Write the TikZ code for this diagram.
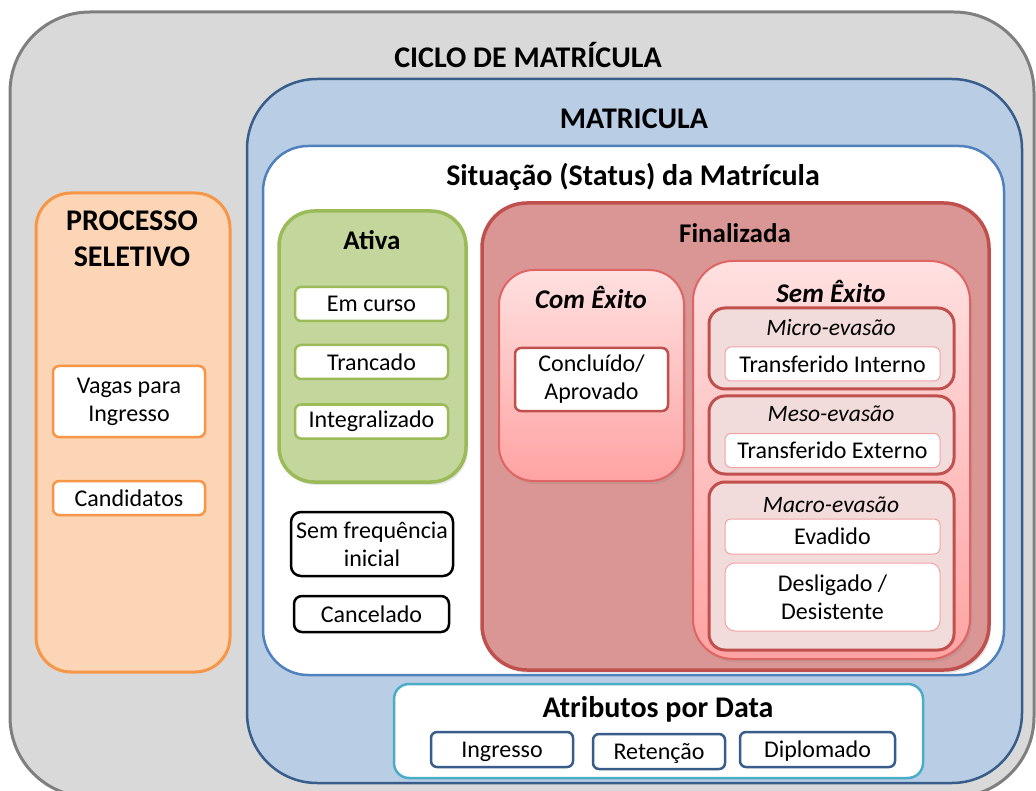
\documentclass[tikz,border=0pt]{standalone}
\usepackage{fontspec}
\setmainfont{Carlito}
\usetikzlibrary{fit,shadows}
\definecolor{cinzafundo}{HTML}{D9D9D9}
\definecolor{cinzaborda}{HTML}{7F7F7F}
\definecolor{azulfundo}{HTML}{B9CDE5}
\definecolor{azulborda}{HTML}{385D8A}
\definecolor{azulclaro}{HTML}{4F81BD}
\definecolor{verdefundo}{HTML}{C3D69B}
\definecolor{verdeborda}{HTML}{9BBB59}
\definecolor{vermfundo}{HTML}{D99694}
\definecolor{vermborda}{HTML}{C0504D}
\definecolor{rosatopo}{HTML}{FFE0E0}
\definecolor{rosabase}{HTML}{FFA3A3}
\definecolor{rosaborda}{HTML}{DE6563}
\definecolor{rosafundo}{HTML}{F2DCDB}
\definecolor{rosafino}{HTML}{F0A3A3}
\definecolor{laranjafundo}{HTML}{FBD5B5}
\definecolor{laranjaborda}{HTML}{F79646}
\definecolor{turquesa}{HTML}{4BACC6}
\begin{document}
\begin{tikzpicture}[x=1pt, y=-1pt, line join=round,
	caixa/.style={inner sep=0pt, rounded corners=#1},
	sombra/.style={drop shadow={opacity=0.2, shadow xshift=2pt, shadow yshift=-3pt}},
	item/.style={draw, fill=white, rounded corners=6pt, inner sep=0pt, align=center,
		font=\fontsize{24}{28}\selectfont, minimum height=34pt},
	titulo/.style={font=\fontsize{30}{36}\selectfont\bfseries},
	subtitulo/.style={font=\fontsize{27}{32}\selectfont\bfseries},
	evasao/.style={font=\fontsize{23.5}{28}\selectfont\itshape},
	]
	\useasboundingbox (0,0) rectangle (1036,791);
	\clip (0,0) rectangle (1036,791);
	% caixas de fundo
	\node[caixa=80pt, fill=cinzafundo, draw=cinzaborda, line width=3pt, fit={(10,12) (1034,797)}] (ciclo) {};
	\node[caixa=70pt, fill=azulfundo, draw=azulborda, line width=2.5pt, fit={(247,79) (1022,783)}] (matricula) {};
	\node[caixa=45pt, fill=white, draw=azulclaro, line width=2.5pt, fit={(263,146) (1004,675)}] (situacao) {};
	\node[caixa=35pt, fill=laranjafundo, draw=laranjaborda, line width=3pt, fit={(36,193) (230,672)}] (processo) {};
	\node[caixa=35pt, sombra, fill=verdefundo, draw=verdeborda, line width=3.5pt, fit={(279,211) (466,482)}] (ativa) {};
	\node[caixa=45pt, sombra, fill=vermfundo, draw=vermborda, line width=3.5pt, fit={(482,203) (989,670)}] (finalizada) {};
	\node[caixa=35pt, sombra, top color=rosatopo, bottom color=rosabase, draw=rosaborda, line width=2pt, fit={(499,270) (684,481)}] (comexito) {};
	\node[caixa=40pt, sombra, top color=rosatopo, bottom color=rosabase, draw=rosaborda, line width=2pt, fit={(693,261) (970,659)}] (semexito) {};
	\node[caixa=16pt, fill=rosafundo, draw=vermborda, line width=3pt, fit={(709,308) (954,389)}] (micro) {};
	\node[caixa=16pt, fill=rosafundo, draw=vermborda, line width=3pt, fit={(709,396) (954,474)}] (meso) {};
	\node[caixa=16pt, fill=rosafundo, draw=vermborda, line width=3pt, fit={(709,482) (954,650)}] (macro) {};
	\node[caixa=15pt, fill=white, draw=turquesa, line width=2.5pt, fit={(394,684) (923,778)}] (atributos) {};
	% titulos
	\node[titulo] (tciclo) at (528,55) {CICLO DE MATRÍCULA};
	\node[titulo] (tmatricula) at (634,119) {MATRICULA};
	\node[titulo] (tsituacao) at (633,177) {Situação (Status) da Matrícula};
	\node[titulo, align=center] (tprocesso) at (132,239) {PROCESSO\\SELETIVO};
	\node[subtitulo] (tativa) at (372,240) {Ativa};
	\node[subtitulo] (tfinalizada) at (735,233) {Finalizada};
	\node[subtitulo, font=\fontsize{27}{32}\selectfont\bfseries\itshape] (tcomexito) at (591,297) {Com Êxito};
	\node[subtitulo, font=\fontsize{27}{32}\selectfont\bfseries\itshape] (tsemexito) at (831,291) {Sem Êxito};
	\node[evasao] (tmicro) at (831,328) {Micro-evasão};
	\node[evasao] (tmeso) at (831,414) {Meso-evasão};
	\node[evasao] (tmacro) at (831,505) {Macro-evasão};
	\node[titulo] (tatributos) at (658,709) {Atributos por Data};
	% itens
	\node[item, draw=laranjaborda, line width=2.5pt, minimum width=152pt, minimum height=71pt] (vagas) at (129,401.5) {Vagas para\\Ingresso};
	\node[item, draw=laranjaborda, line width=2.5pt, minimum width=152pt] (candidatos) at (129,498) {Candidatos};
	\foreach \nome/\texto/\y in {emcurso/Em curso/304, trancado/Trancado/362, integralizado/Integralizado/421.5}
		\node[item, draw=verdeborda, line width=2.5pt, minimum width=153pt] (\nome) at (371.5,\y) {\texto};
	\node[item, line width=2.5pt, rounded corners=10pt, minimum width=162pt, minimum height=64pt] (semfrequencia) at (372,544) {Sem frequência\\inicial};
	\node[item, line width=2.5pt, rounded corners=8pt, minimum width=155pt, minimum height=36pt] (cancelado) at (371.5,614) {Cancelado};
	\node[item, draw=vermborda, line width=2.5pt, minimum width=153pt, minimum height=63pt] (concluido) at (591.5,379.5) {Concluído/\\Aprovado};
	\node[item, draw=rosafino, line width=1pt, minimum width=215pt] (transfinterno) at (832.5,364) {Transferido Interno};
	\node[item, draw=rosafino, line width=1pt, minimum width=215pt] (transfexterno) at (832.5,450.5) {Transferido Externo};
	\node[item, draw=rosafino, line width=1pt, minimum width=215pt, minimum height=35pt] (evadido) at (832.5,536.5) {Evadido};
	\node[item, draw=rosafino, line width=1pt, minimum width=215pt, minimum height=68pt, rounded corners=10pt] (desligado) at (832.5,597) {Desligado /\\Desistente};
	\foreach \nome/\texto/\x/\y/\w in {ingresso/Ingresso/502/749.5/142, retencao/Retenção/659/751.5/132, diplomado/Diplomado/817.5/749.5/155}
		\node[item, draw=azulborda, line width=2.5pt, minimum width=\w pt, minimum height=35pt, text height=19pt, text depth=3pt] (\nome) at (\x,\y) {\texto};
\end{tikzpicture}
\end{document}
